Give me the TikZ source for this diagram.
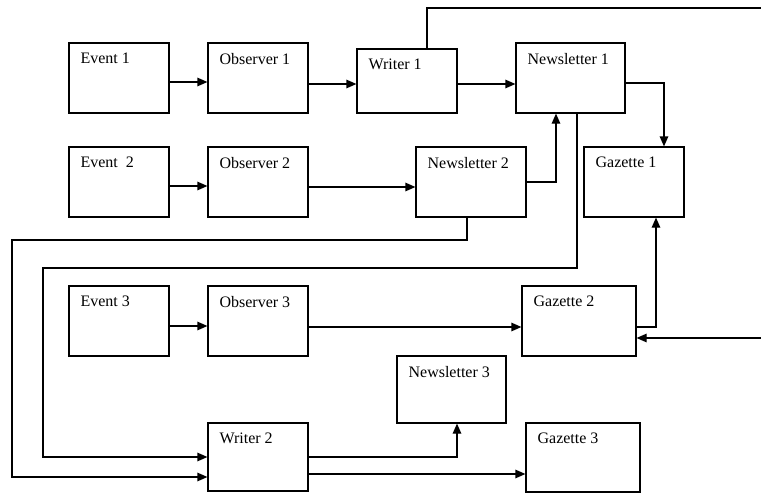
\documentclass[tikz,border=0pt]{standalone}
\usepackage{fontspec}
\setmainfont{Liberation Serif}
\usetikzlibrary{arrows.meta}
\tikzset{%
  box/.style={draw, line width=1.2pt, minimum width=100pt, minimum height=70pt, inner sep=0pt},%
  tag/.style={anchor=north west, inner sep=0pt, xshift=12pt, yshift=-10.5pt, font=\fontsize{16}{19}\selectfont},%
  flow/.style={draw, line width=1.2pt, -{Triangle[length=10pt,width=8.5pt]}},%
}
\begin{document}
\begin{tikzpicture}[x=1pt,y=-1pt]%
\useasboundingbox (0,0) rectangle (761,493);%
%
% first row
\node[box, label={[tag]north west:Event 1}] (ev1) at (119,78) {};%
\node[box, label={[tag]north west:Observer 1}] (ob1) at (258,78) {};%
\node[box, minimum height=64pt, label={[tag]north west:Writer 1}] (wr1) at (407,81) {};%
\node[box, minimum width=109pt, label={[tag]north west:Newsletter 1}] (nl1) at (570.5,78) {};%
%
% second row
\node[box, label={[tag]north west:Event\ \ 2}] (ev2) at (119,182) {};%
\node[box, label={[tag]north west:Observer 2}] (ob2) at (258,182) {};%
\node[box, minimum width=110pt, label={[tag]north west:Newsletter 2}] (nl2) at (471,182) {};%
\node[box, label={[tag]north west:Gazette 1}] (gz1) at (634,182) {};%
%
% third row
\node[box, label={[tag]north west:Event 3}] (ev3) at (119,321) {};%
\node[box, label={[tag]north west:Observer 3}] (ob3) at (258,321) {};%
\node[box, minimum width=114pt, label={[tag]north west:Gazette 2}] (gz2) at (579,321) {};%
%
% bottom
\node[box, minimum width=109pt, minimum height=67pt, label={[tag]north west:Newsletter 3}] (nl3) at (451.5,389.5) {};%
\node[box, minimum height=68pt, label={[tag]north west:Writer 2}] (wr2) at (258,457) {};%
\node[box, minimum width=114pt, minimum height=69pt, label={[tag]north west:Gazette 3}] (gz3) at (583,457.5) {};%
%
\coordinate (loopA) at (43,268);%
\coordinate (loopB) at (12,240);%
\coordinate (topR) at (768,8);%
\coordinate (botR) at (768,338);%
%
\path[flow] ([yshift=-4pt]ev1.east) -- ([yshift=-4pt]ob1.west);%
\path[flow] ([yshift=-6pt]ob1.east) -- ([yshift=-3pt]wr1.west);%
\path[flow] ([yshift=-3pt]wr1.east) -- ([yshift=-6pt]nl1.west);%
\path[flow] ([yshift=-5pt]nl1.east) -| ([xshift=30pt]gz1.north);%
%
\path[flow] ([yshift=-4pt]ev2.east) -- ([yshift=-4pt]ob2.west);%
\path[flow] ([yshift=-5pt]ob2.east) -- ([yshift=-5pt]nl2.west);%
\path[flow] (nl2.east) -| ([xshift=-14.5pt]nl1.south);%
%
\path[flow] ([yshift=-5pt]ev3.east) -- ([yshift=-5pt]ob3.west);%
\path[flow] ([yshift=-6pt]ob3.east) -- ([yshift=-6pt]gz2.west);%
\path[flow] ([yshift=-6pt]gz2.east) -| ([xshift=22pt]gz1.south);%
%
% long returns
\path[flow] ([xshift=6.5pt]nl1.south) |- (loopA) |- (wr2.west);%
\path[flow] ([xshift=-4pt]nl2.south) |- (loopB) |- ([yshift=-20pt]wr2.west);%
\path[flow] ([xshift=20pt]wr1.north) |- (topR) -- (botR) -- ([yshift=-17pt]gz2.east);%
%
\path[flow] (wr2.east) -| ([xshift=5.5pt]nl3.south);%
\path[flow] ([yshift=-17pt]wr2.east) -- ([yshift=-16.5pt]gz3.west);%
%
\end{tikzpicture}
\end{document}
